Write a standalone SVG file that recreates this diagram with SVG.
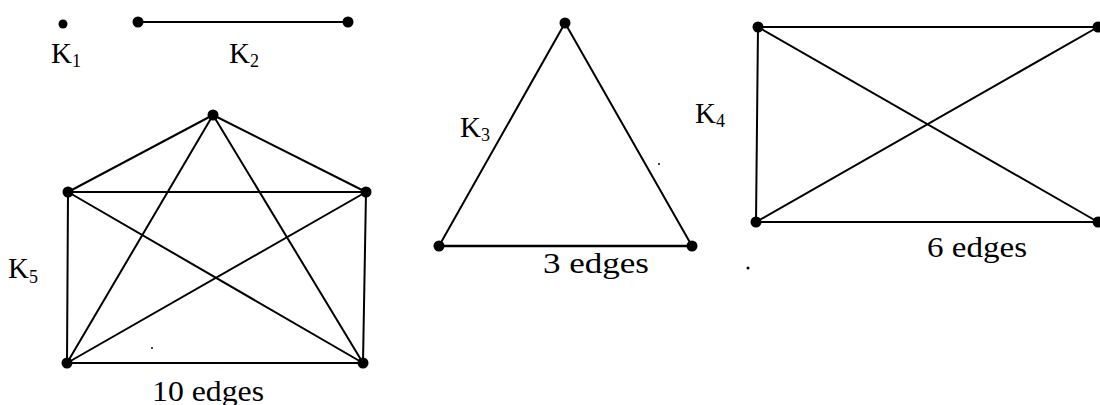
<svg xmlns="http://www.w3.org/2000/svg" width="1100" height="405" viewBox="0 0 1100 405">
<style>
.e{stroke:#000;stroke-width:2;fill:none;stroke-linecap:round}
.v{fill:#000}
.t{font-family:"Liberation Serif","Times New Roman",serif;font-size:29px;fill:#000}
.s{font-size:18px}
</style>
<rect width="1100" height="405" fill="#fff"/>
<g id="connectors">
<line class="e" x1="137" y1="22" x2="348" y2="22"/>
<line class="e" x1="213" y1="115" x2="68" y2="192"/>
<line class="e" x1="213" y1="115" x2="366" y2="192"/>
<line class="e" x1="213" y1="115" x2="67" y2="363"/>
<line class="e" x1="213" y1="115" x2="363" y2="363"/>
<line class="e" x1="68" y1="192" x2="366" y2="192"/>
<line class="e" x1="68" y1="192" x2="67" y2="363"/>
<line class="e" x1="68" y1="192" x2="363" y2="363"/>
<line class="e" x1="366" y1="192" x2="363" y2="363"/>
<line class="e" x1="366" y1="192" x2="67" y2="363"/>
<line class="e" x1="67" y1="363" x2="363" y2="363"/>
<line class="e" x1="565" y1="23" x2="439" y2="246"/>
<line class="e" x1="565" y1="23" x2="692" y2="246"/>
<line class="e" x1="439" y1="246" x2="692" y2="246" style="stroke-width:2.5"/>
<line class="e" x1="758" y1="27" x2="1098" y2="27"/>
<line class="e" x1="758" y1="27" x2="756" y2="222"/>
<line class="e" x1="758" y1="27" x2="1098" y2="222"/>
<line class="e" x1="756" y1="222" x2="1098" y2="27"/>
<line class="e" x1="756" y1="222" x2="1098" y2="222"/>
</g>
<g id="k1"><circle class="v" cx="63" cy="24" r="4.5"/><text class="t" x="51" y="63">K<tspan class="s" dy="4">1</tspan></text></g>
<g id="k2"><circle class="v" cx="138" cy="22" r="5.5"/><circle class="v" cx="348" cy="22" r="5.5"/><text class="t" x="229" y="63">K<tspan class="s" dy="4">2</tspan></text></g>
<g id="k5">
<circle class="v" cx="213" cy="115" r="5.5"/><circle class="v" cx="68" cy="192" r="5.5"/><circle class="v" cx="366" cy="192" r="5.5"/><circle class="v" cx="67" cy="363" r="5.5"/><circle class="v" cx="363" cy="363" r="5.5"/>
<text class="t" x="8" y="278">K<tspan class="s" dy="5">5</tspan></text>
<text class="t" x="152" y="401" textLength="112" lengthAdjust="spacingAndGlyphs">10 edges</text>
<circle class="v" cx="152" cy="348" r="1"/>
</g>
<g id="k3">
<circle class="v" cx="565" cy="23" r="5.5"/><circle class="v" cx="439" cy="246" r="5.5"/><circle class="v" cx="692" cy="246" r="5.5"/>
<text class="t" x="460" y="137">K<tspan class="s" dy="4">3</tspan></text>
<text class="t" x="543" y="273" textLength="106" lengthAdjust="spacingAndGlyphs">3 edges</text>
<circle class="v" cx="659" cy="164" r="1"/>
</g>
<g id="k4">
<circle class="v" cx="758" cy="27" r="5.5"/><circle class="v" cx="1098" cy="27" r="5.5"/><circle class="v" cx="756" cy="222" r="5.5"/><circle class="v" cx="1098" cy="222" r="5.5"/>
<text class="t" x="695" y="123">K<tspan class="s" dy="4">4</tspan></text>
<text class="t" x="927" y="257" textLength="100" lengthAdjust="spacingAndGlyphs">6 edges</text>
<circle class="v" cx="748" cy="268" r="1.5"/>
</g>
</svg>
